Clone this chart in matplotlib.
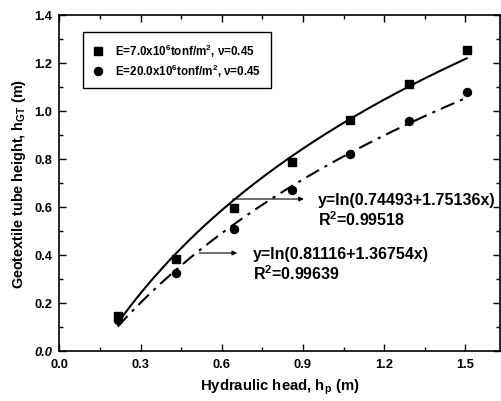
import numpy as np
import matplotlib
matplotlib.use("Agg")
import matplotlib.pyplot as plt
from matplotlib.ticker import MultipleLocator

# Data
hp = [0.215, 0.43, 0.645, 0.86, 1.075, 1.29, 1.505]
h_E7 = [0.146, 0.382, 0.593, 0.787, 0.962, 1.113, 1.252]
h_E20 = [0.129, 0.324, 0.505, 0.668, 0.820, 0.957, 1.079]
fit_E7 = (0.74493, 1.75136)
fit_E20 = (0.81116, 1.36754)
legend_labels = [r"E=7.0x10$^{\mathbf{6}}$tonf/m$^{\mathbf{2}}$, ν=0.45",
                 r"E=20.0x10$^{\mathbf{6}}$tonf/m$^{\mathbf{2}}$, ν=0.45"]
eq_E7 = ["y=ln(0.74493+1.75136x)", r"R$^{\mathbf{2}}$=0.99518"]
eq_E20 = ["y=ln(0.81116+1.36754x)", r"R$^{\mathbf{2}}$=0.99639"]
xticks = [0.0, 0.3, 0.6, 0.9, 1.2, 1.5]
yticks = [0.0, 0.2, 0.4, 0.6, 0.8, 1.0, 1.2, 1.4]

plt.rcParams['font.family'] = ['Liberation Sans', 'DejaVu Sans']
plt.rcParams['font.weight'] = 'bold'
plt.rcParams['mathtext.fontset'] = 'custom'
plt.rcParams['mathtext.rm'] = 'Liberation Sans:bold'
plt.rcParams['mathtext.bf'] = 'Liberation Sans:bold'

fig = plt.figure(figsize=(5.02, 4.02), dpi=100)
ax = fig.add_axes([0.1183, 0.1251, 0.996 - 0.1183, 0.961 - 0.1251])

xs = np.linspace(hp[0], hp[-1], 200)
ax.plot(xs, np.log(fit_E7[0] + fit_E7[1] * xs), color='black', lw=1.5, zorder=2)
ax.plot(xs, np.log(fit_E20[0] + fit_E20[1] * xs), color='black', lw=1.5,
        dashes=(7, 3, 1.5, 3), zorder=2)

ax.plot(hp, h_E7, 's', color='black', ms=5.8, label=legend_labels[0], zorder=3)
ax.plot(hp, h_E20, 'o', color='black', ms=5.8, label=legend_labels[1], zorder=3)

leg = ax.legend(loc='upper left', bbox_to_anchor=(0.0529, 0.9476), fancybox=False,
                edgecolor='black', framealpha=1, prop={'size': 8.4, 'weight': 'bold'},
                handlelength=1.1, handletextpad=0.9, borderpad=0.8, labelspacing=0.25,
                borderaxespad=0)
leg.get_frame().set_linewidth(1.0)

# annotation arrows
ax.annotate("", xy=(0.9135, 0.632), xytext=(0.630, 0.632),
            arrowprops=dict(arrowstyle='-|>', color='black', lw=0.8, mutation_scale=7))
ax.annotate("", xy=(0.667, 0.407), xytext=(0.507, 0.407),
            arrowprops=dict(arrowstyle='-|>', color='black', lw=0.8, mutation_scale=7))
fs_eq = 11.5
ax.text(0.955, 0.632, eq_E7[0], fontsize=fs_eq, fontweight='bold', va='center', ha='left')
ax.text(0.955, 0.549, eq_E7[1], fontsize=fs_eq, fontweight='bold', va='center', ha='left')
ax.text(0.715, 0.407, eq_E20[0], fontsize=fs_eq, fontweight='bold', va='center', ha='left')
ax.text(0.715, 0.324, eq_E20[1], fontsize=fs_eq, fontweight='bold', va='center', ha='left')

ax.set_xlim(0, 1.628)
ax.set_ylim(0, 1.4)
ax.set_xticks(xticks)
ax.set_yticks(yticks)
ax.set_xticklabels([f"{v:.1f}" for v in xticks], fontsize=9.3, fontweight='bold')
ylabels = ax.set_yticklabels([f"{v:.1f}" for v in yticks], fontsize=9.3, fontweight='bold')
ylabels[0].set_fontstyle('italic')
ax.xaxis.set_minor_locator(MultipleLocator(0.15))
ax.yaxis.set_minor_locator(MultipleLocator(0.1))
ax.tick_params(which='both', direction='in', top=True, right=True, width=1.0)
ax.tick_params(which='major', length=5, pad=5)
ax.tick_params(which='minor', length=3)
for s in ax.spines.values():
    s.set_linewidth(1.2)

ax.set_xlabel(r"Hydraulic head, h$_{\mathbf{p}}$ (m)", fontsize=10.7, fontweight='bold', labelpad=4.5)
ax.set_ylabel(r"Geotextile tube height, h$_{\mathbf{GT}}$ (m)", fontsize=10.4, fontweight='bold', labelpad=4.5)

fig.savefig("out.png", dpi=100)
